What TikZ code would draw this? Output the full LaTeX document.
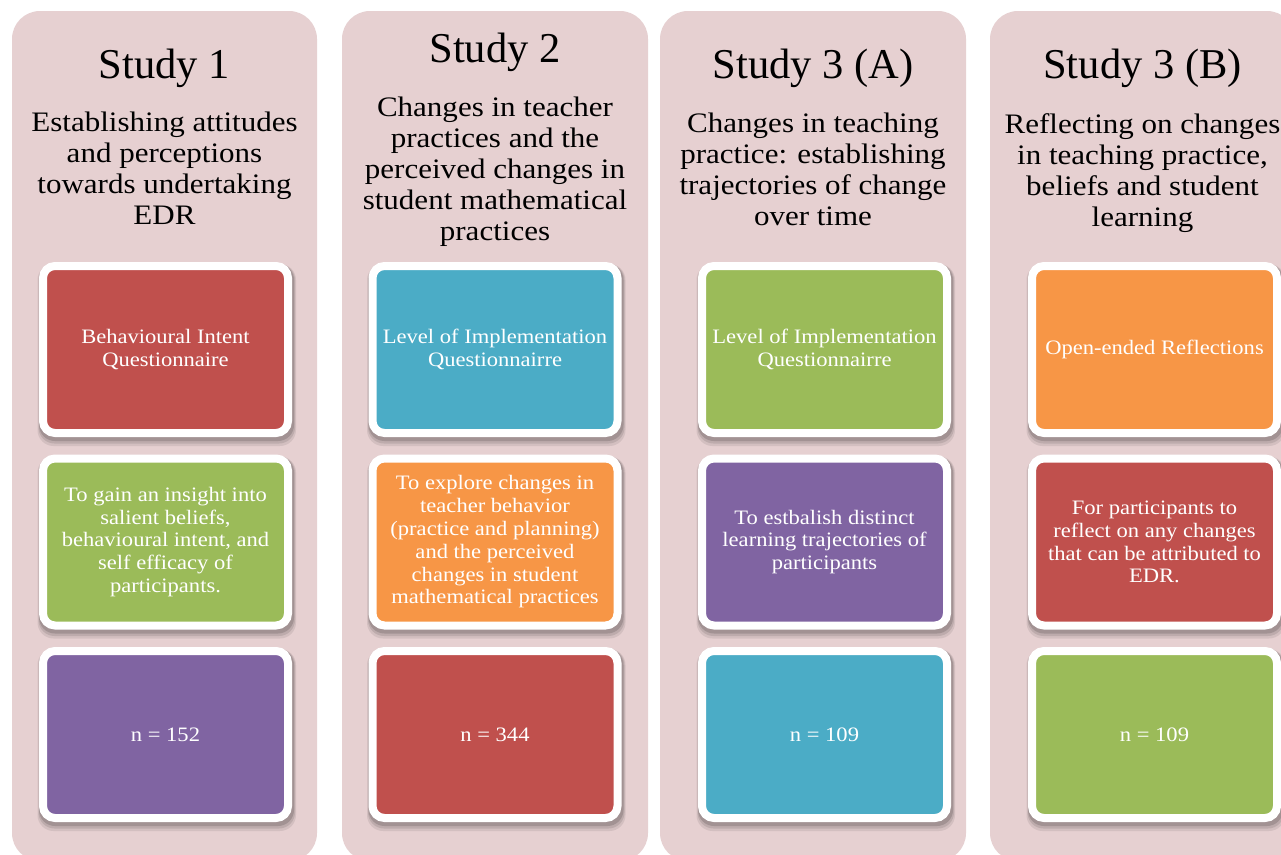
\documentclass[tikz,border=0pt]{standalone}
\usepackage{fontspec}
\setmainfont{Liberation Serif}
\newfontfamily\bodyfont[FakeStretch=1.1]{Liberation Serif}
\definecolor{pinkbg}{HTML}{E6D0D1}
\definecolor{cred}{HTML}{C0504D}
\definecolor{cgreen}{HTML}{9BBB59}
\definecolor{cpurple}{HTML}{8064A2}
\definecolor{cteal}{HTML}{4BACC6}
\definecolor{corange}{HTML}{F79646}
\pgfdeclarelayer{back}
\pgfdeclarelayer{shade}
\pgfsetlayers{back,shade,main}
\tikzset{
  column/.style={fill=pinkbg, rounded corners=28pt},
  card/.style={draw=white, line width=8pt, rounded corners=12pt,
    minimum width=245pt, minimum height=167pt, inner sep=0pt,
    text=white, align=center,
    font=\bodyfont\fontsize{20.5}{22.8}\selectfont},
  titletext/.style={font=\fontsize{42.5}{48}\selectfont, inner sep=0pt},
  subtext/.style={font=\bodyfont\fontsize{28.2}{31}\selectfont, align=center, inner sep=0pt},
  shadelayer/.style={fill=black, rounded corners=16pt}
}
\begin{document}
\begin{tikzpicture}[x=1pt,y=-1pt]
\useasboundingbox (0,0) rectangle (1281,854);
\clip (0,0) rectangle (1281,854);
% columns
\begin{pgfonlayer}{back}
\fill[white] (0,0) rectangle (1281,854);
\fill[column] (12,11) rectangle (317,861);
\fill[column] (342,11) rectangle (648,861);
\fill[column] (660,11) rectangle (966,861);
\fill[column] (990,11) rectangle (1295,861);
\end{pgfonlayer}
% titles
\node[titletext] (t1) at (164.5,68) {Study 1};
\node[titletext] (t2) at (495,52) {Study 2};
\node[titletext] (t3) at (813,68) {Study 3 (A)};
\node[titletext] (t4) at (1142.5,68) {Study 3 (B)};
% subtitles
\node[subtext] (s1) at (164.5,168.5) {Establishing attitudes\\and perceptions\\towards undertaking\\EDR};
\node[subtext] (s2) at (495,172) {Changes in teacher\\practices and the\\perceived changes in\\student mathematical\\practices};
\node[subtext] (s3) at (813,169.5) {Changes in teaching\\practice: establishing\\trajectories of change\\over time};
\node[subtext] (s4) at (1142.5,173) {Reflecting on changes\\in teaching practice,\\beliefs and student\\learning};
% cards
\node[card, fill=cred]    (c11) at (165.5,349.5) {Behavioural Intent\\Questionnaire};
\node[card, fill=cgreen]  (c12) at (165.5,542) {To gain an insight into\\salient beliefs,\\behavioural intent, and\\self efficacy of\\participants.};
\node[card, fill=cpurple] (c13) at (165.5,734.5) {n = 152};
\node[card, fill=cteal]   (c21) at (495,349.5) {Level of Implementation\\Questionnairre};
\node[card, fill=corange] (c22) at (495,542) {To explore changes in\\teacher behavior\\(practice and planning)\\and the perceived\\changes in student\\mathematical practices};
\node[card, fill=cred]    (c23) at (495,734.5) {n = 344};
\node[card, fill=cgreen]  (c31) at (824.5,349.5) {Level of Implementation\\Questionnairre};
\node[card, fill=cpurple] (c32) at (824.5,542) {To estbalish distinct\\learning trajectories of\\participants};
\node[card, fill=cteal]   (c33) at (824.5,734.5) {n = 109};
\node[card, fill=corange] (c41) at (1154.5,349.5) {Open-ended Reflections};
\node[card, fill=cred]    (c42) at (1154.5,542) {For participants to\\reflect on any changes\\that can be attributed to\\EDR.};
\node[card, fill=cgreen]  (c43) at (1154.5,734.5) {n = 109};
% shadows
\begin{pgfonlayer}{shade}
\foreach \c in {c11,c12,c13,c21,c22,c23,c31,c32,c33,c41,c42,c43}{
  \fill[shadelayer, opacity=.08] ([shift={(-1.5pt,-2pt)}]\c.north west) rectangle ([shift={(4pt,-9pt)}]\c.south east);
  \fill[shadelayer, opacity=.10] ([shift={(-0.5pt,-2pt)}]\c.north west) rectangle ([shift={(3pt,-6.5pt)}]\c.south east);
  \fill[shadelayer, opacity=.14] ([shift={(0pt,-2pt)}]\c.north west) rectangle ([shift={(2pt,-4pt)}]\c.south east);
}
\end{pgfonlayer}
\end{tikzpicture}
\end{document}
